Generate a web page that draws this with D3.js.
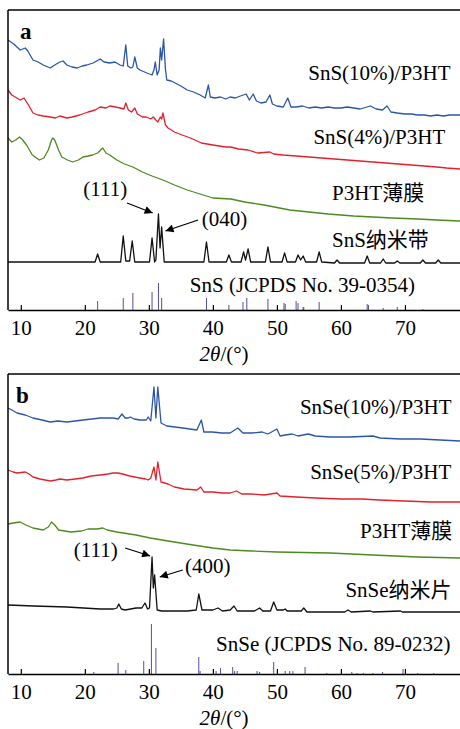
<!DOCTYPE html>
<html><head><meta charset="utf-8">
<script src="https://cdn.jsdelivr.net/npm/d3@7"></script>
<style>body{margin:0;background:#fff} svg{display:block}</style>
</head><body><svg id="c" width="460" height="729"></svg>
<script>
// ---------- DATA ----------
const tickValues = [10, 20, 30, 40, 50, 60, 70];
const xTitle = "2θ/(°)";

// Panel a (SnS) – [2θ, intensity a.u. incl. stacking offset]
const snsP3ht10 = [[8.0,270],[8.9,266],[9.9,260],[10.7,262],[11.1,259],[11.9,250],[12.7,248],[13.5,245],[14.6,242],[15.3,245],[16.1,248],[16.6,249],[17.2,245],[18.0,243],[18.8,242],[19.6,244],[20.3,245],[21.3,247],[22.4,251],[23.0,248],[23.9,247],[24.7,248],[25.5,245],[26.0,244],[26.4,265],[26.7,244],[27.2,242],[27.5,243],[27.8,253],[28.2,242],[28.6,240],[29.7,237],[30.5,235],[30.8,240],[31.0,248],[31.3,235],[31.6,240],[31.8,262],[32.0,250],[32.3,271],[32.6,240],[32.8,230],[33.5,229],[34.4,226],[35.0,224],[36.0,220],[37.0,218],[38.0,215],[38.8,212],[39.3,225],[39.6,213],[40.3,212],[41.2,213],[42.0,211],[42.7,213],[43.5,212],[44.3,214],[45.2,216],[45.7,210],[46.3,216],[46.8,209],[47.5,207],[48.3,208],[48.9,215],[49.3,206],[50.0,204],[51.0,203],[51.7,212],[52.2,203],[53.0,203],[54.0,204],[55.0,202],[56.0,203],[57.0,202],[58.0,203],[59.0,202],[60.0,202],[61.0,203],[62.0,202],[63.0,201],[64.6,204],[65.5,201],[66.5,200],[67.2,204],[67.8,198],[68.8,197],[70.0,196],[71.0,196],[72.0,195],[73.0,195],[74.0,194],[75.0,195],[76.0,194],[77.0,195],[78.6,195]];
const snsP3ht4 = [[8.0,220],[8.6,215],[9.9,210],[10.5,212],[11.2,205],[11.9,197],[12.7,195],[13.5,194],[14.6,193],[15.4,192],[16.1,194],[17.2,192],[18.0,193],[19.2,195],[20.5,198],[21.6,200],[22.4,203],[23.3,202],[23.9,204],[24.8,203],[25.5,202],[26.1,201],[26.4,207],[26.8,200],[27.3,198],[27.8,202],[28.2,196],[29.0,193],[29.6,193],[30.3,191],[30.7,193],[31.1,190],[31.4,188],[31.8,193],[32.0,191],[32.2,197],[32.6,185],[33.0,182],[34.0,178],[35.2,175],[36.5,172],[38.2,167],[40.0,165],[42.0,163],[42.8,163],[44.0,161],[45.5,160],[47.0,157],[48.9,158],[49.5,156],[51.0,155],[53.0,154],[55.0,153],[57.0,152],[59.0,151],[61.0,150],[63.0,149],[65.0,148],[67.0,147],[69.0,146],[71.0,145],[73.0,144],[75.0,143],[76.5,142],[78.6,141]];
const snsFilm = [[8.0,172],[8.6,168],[9.2,170],[9.8,173],[10.3,170],[10.9,165],[11.8,155],[12.9,150],[13.6,152],[14.3,160],[14.8,170],[15.0,172],[15.3,170],[15.9,160],[16.4,153],[17.3,150],[18.1,148],[19.0,150],[19.7,153],[20.5,154],[21.2,155],[22.0,157],[22.8,162],[23.3,157],[23.9,155],[25.0,150],[26.2,146],[27.5,143],[29.0,138],[30.5,134],[32.2,130],[34.0,125],[36.0,120],[38.0,116],[40.0,112],[42.8,111],[45.0,108],[48.0,105],[52.0,100],[55.0,98],[58.0,96],[62.0,94],[65.0,93],[68.0,92],[72.0,91],[75.0,90],[78.6,89]];
const snsBelt = [[8,48],[12,48],[16,48],[20,48],[21.6,48],[22.0,56],[22.4,48],[25.6,48],[26.0,74],[26.4,49],[27.0,49],[27.4,69],[27.8,48],[30.1,48],[30.5,72],[30.9,48],[31.1,50],[31.5,96],[31.75,62],[32.0,83],[32.4,48],[38.6,48],[39.0,68],[39.4,48],[42.1,48],[42.5,55],[42.9,48],[44.4,48],[44.8,58],[45.1,50],[45.5,61],[45.9,48],[48.2,48],[48.6,63],[49.0,48],[50.8,48],[51.2,57],[51.6,48],[52.9,48],[53.3,55],[53.7,50],[54.1,54],[54.5,48],[56.2,48],[56.6,58],[57.0,48],[59.0,47],[59.4,50],[59.8,47],[63.7,47],[64.1,54],[64.5,47],[66.2,47],[66.6,51],[67.0,47],[68.4,47],[68.8,49],[69.2,47],[72.4,47],[72.8,50],[73.2,47],[74.8,47],[75.2,50],[75.6,47],[78.6,47]];
const snsRef = [[22.0,9],[26.0,12],[27.5,17],[30.5,18],[31.5,27],[32.0,12],[39.0,12],[42.5,5],[44.7,8],[45.3,12],[48.6,11],[51.1,7],[51.3,6],[53.0,9],[53.3,7],[54.1,3],[54.2,3],[56.6,8],[64.1,6],[64.3,5],[66.6,2],[68.8,3],[72.8,1]];

// Panel b (SnSe)
const snseP3ht10 = [[8.0,266],[8.6,264],[9.4,261],[10.7,259],[11.9,256],[13.3,254],[14.6,252],[15.8,253],[17.2,252],[18.5,253],[19.7,254],[21.1,255],[22.4,256],[23.6,256],[24.4,256],[25.2,255],[25.8,260],[26.3,256],[26.8,256],[27.1,257],[27.7,255],[28.6,254],[29.6,254],[29.9,257],[30.3,253],[30.8,287],[31.1,256],[31.4,287],[31.9,251],[32.8,248],[34.1,247],[35.3,246],[36.4,245],[37.5,244],[38.2,254],[38.6,242],[39.9,242],[41.4,241],[42.7,241],[43.9,246],[44.7,241],[46.1,241],[47.7,242],[48.6,240],[50.0,245],[50.5,238],[51.3,239],[52.4,240],[53.3,238],[54.9,240],[56.0,238],[58.3,237],[61.4,237],[65.0,238],[66.1,236],[69.3,235],[72.4,235],[75.5,234],[78.6,233]];
const snseP3ht5 = [[8.0,204],[8.8,202],[9.4,201],[10.7,202],[11.3,200],[11.9,197],[13.0,195],[14.6,193],[15.5,194],[16.1,195],[17.2,194],[18.5,195],[19.7,196],[21.0,198],[22.4,199],[23.6,200],[24.4,201],[25.2,201],[25.9,200],[27.0,198],[28.6,196],[29.5,195],[29.9,194],[30.3,196],[30.8,207],[31.1,194],[31.4,212],[31.9,192],[33.0,190],[34.0,187],[35.5,185],[37.5,184],[38.1,187],[38.6,182],[40.0,182],[41.5,181],[42.7,181],[43.7,183],[44.5,180],[46.0,180],[48.0,179],[50.0,181],[50.5,178],[53.0,177],[56.0,176],[60.0,175],[63.3,175],[66.0,174],[70.0,173],[74.0,172],[78.6,172]];
const snseFilm = [[8.0,150],[8.8,151],[9.9,152],[10.8,149],[11.9,146],[13.5,144],[14.3,147],[14.8,152],[15.3,149],[15.9,144],[17.8,142],[19.5,143],[20.5,145],[21.9,145],[22.8,146],[23.5,144],[25.0,142],[28.0,139],[30.2,136],[33.0,133],[36.9,129],[40.0,126],[42.7,124],[46.0,123],[50.0,122],[58.3,121],[65.0,119],[72.0,117],[78.6,116]];
const snseSheet = [[8.0,69],[12.0,68],[17.2,67],[22.4,65],[24.5,65],[25.0,66],[25.3,70],[25.7,65],[26.3,64],[28.0,66],[28.9,66],[29.4,71],[29.8,65],[30.1,66],[30.5,117],[30.7,86],[30.9,99],[31.3,64],[32.0,63],[34.0,63],[36.0,63],[37.4,64],[37.8,80],[38.3,64],[40.0,64],[40.8,66],[41.5,63],[42.7,64],[43.3,68],[43.8,63],[46.5,63],[47.3,66],[47.8,63],[49.0,63],[49.5,72],[50.0,64],[51.0,64],[51.3,65],[51.6,63],[53.8,63],[54.2,66],[54.7,62],[57.0,62],[60.6,62],[61.1,64],[61.6,62],[64.6,63],[65.0,62],[69.3,63],[69.6,62],[74.0,62],[78.6,62]];
const snseRef = [[21.4,2],[25.2,11],[26.4,4],[29.2,13],[30.4,50],[31.1,26],[37.8,17],[38.0,3],[40.5,3],[41.2,6],[43.1,7],[43.4,3],[43.8,3],[46.9,3],[47.3,2],[49.5,12],[51.3,3],[52.0,3],[52.5,3],[54.4,7],[57.8,1],[61.7,2],[62.5,1],[63.5,1],[65.0,1],[66.5,2],[69.7,5],[72.0,1],[74.5,1]];

// labels: [text, 2θ start, value(baseline)]
const labelsA = [["SnS(10%)/P3HT",54.9,230],["SnS(4%)/P3HT",55.7,166],["P3HT薄膜",58.6,110],["SnS纳米带",58.6,63],["SnS (JCPDS No. 39-0354)",36.4,18]];
const labelsB = [["SnSe(10%)/P3HT",53.6,260],["SnSe(5%)/P3HT",55.2,195],["P3HT薄膜",63.0,136],["SnSe纳米片",60.7,77],["SnSe (JCPDS No. 89-0232)",40.5,23]];
// peak annotations: [text, text 2θ centre, text baseline value, arrow from (2θ,val), arrow to (2θ,val)]
const annA = [["(111)",23.2,114,[26.6,107],[30.6,97]],["(040)",41.8,84,[37.7,90],[32.6,79]]];
const annB = [["(111)",21.7,117,[26.3,126],[30.2,118]],["(400)",39.2,101,[35.3,104],[31.7,97]]];

// ---------- DRAW ----------
const svg = d3.select("#c");
const W = 460;
const FS = 21;
const x = d3.scaleLinear().domain([8, 78.6]).range([8, 460]);
const serif = "'Liberation Serif','Times New Roman','Noto Sans CJK SC',serif";
const colors = {blue:"#2b56a8", red:"#e3202b", green:"#4c8a1e", black:"#111", ref:"#5a4a9e"};

svg.append("defs").append("marker").attr("id","ah").attr("viewBox","0 0 10 10")
  .attr("refX",10).attr("refY",5).attr("markerWidth",9).attr("markerHeight",8)
  .attr("markerUnits","userSpaceOnUse").attr("orient","auto")
  .append("path").attr("d","M0,0 L10,5 L0,10 Z").attr("fill","#000");

function panel(top, bottom, letter, letterX, series, ref, labels, anns) {
  const g = svg.append("g");
  const y = d3.scaleLinear().domain([0, 300]).range([bottom, top]);
  const line = d3.line().x(d => x(d[0])).y(d => y(d[1]));
  series.forEach(([data, col]) => {
    g.append("path").datum(data).attr("d", line).attr("fill","none")
      .attr("stroke", col).attr("stroke-width", 1.3).attr("stroke-linejoin","round");
  });
  g.selectAll(".stick").data(ref).join("line")
    .attr("x1", d => x(d[0])).attr("x2", d => x(d[0]))
    .attr("y1", y(0)).attr("y2", d => y(d[1]))
    .attr("stroke", colors.ref).attr("stroke-width", 1);
  // frame
  g.append("line").attr("x1",8).attr("x2",W+2).attr("y1",top).attr("y2",top).attr("stroke","#000").attr("stroke-width",1.5);
  g.append("line").attr("x1",8).attr("x2",8).attr("y1",top).attr("y2",bottom).attr("stroke","#000").attr("stroke-width",1.5);
  const ax = g.append("g").attr("transform", `translate(0,${bottom})`)
    .call(d3.axisBottom(x).tickValues(tickValues).tickSize(-5).tickSizeOuter(0).tickPadding(10));
  ax.select(".domain").attr("stroke-width",1.5);
  ax.selectAll(".tick line").attr("stroke-width",1.2);
  ax.selectAll("text").attr("font-family", serif).attr("font-size", FS).attr("fill","#000");
  const t = g.append("text").attr("x", x(41.75)).attr("y", bottom + 51).attr("text-anchor","middle")
    .attr("font-family", serif).attr("font-size", FS);
  t.append("tspan").attr("font-style","italic").text(xTitle.slice(0,2));
  t.append("tspan").text(xTitle.slice(2));
  g.append("text").attr("x", letterX).attr("y", top + 29).attr("font-family", serif)
    .attr("font-size", 23).attr("font-weight","bold").text(letter);
  labels.forEach(([txt, tx, tv]) => {
    g.append("text").attr("x", x(tx)).attr("y", y(tv)).attr("font-family", serif)
      .attr("font-size", FS).attr("fill","#000").text(txt);
  });
  anns.forEach(([txt, tx, tv, from, to]) => {
    g.append("text").attr("x", x(tx)).attr("y", y(tv)).attr("text-anchor","middle")
      .attr("font-family", serif).attr("font-size", FS).text(txt);
    g.append("line").attr("x1", x(from[0])).attr("y1", y(from[1]))
      .attr("x2", x(to[0])).attr("y2", y(to[1])).attr("stroke","#000")
      .attr("stroke-width",1.3).attr("marker-end","url(#ah)");
  });
}

panel(10, 310, "a", 20, 
  [[snsP3ht10, colors.blue],[snsP3ht4, colors.red],[snsFilm, colors.green],[snsBelt, colors.black]],
  snsRef, labelsA, annA);
panel(374, 674, "b", 16,
  [[snseP3ht10, colors.blue],[snseP3ht5, colors.red],[snseFilm, colors.green],[snseSheet, colors.black]],
  snseRef, labelsB, annB);
</script></body></html>
